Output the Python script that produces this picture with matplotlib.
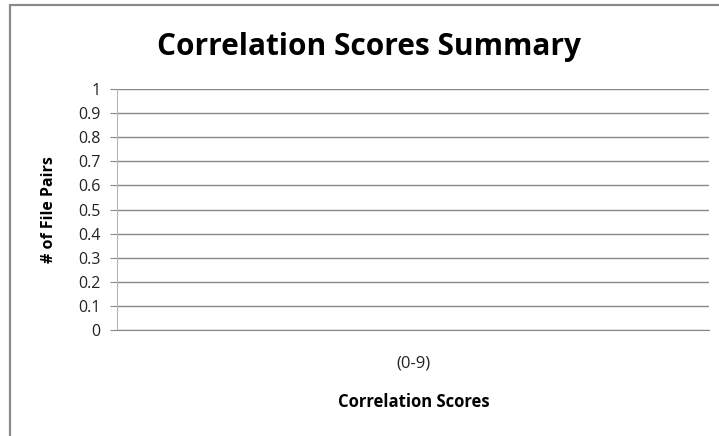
import matplotlib
matplotlib.use("Agg")
import matplotlib.pyplot as plt
from matplotlib.patches import Rectangle

# chart data (empty summary: one category, zero file pairs)
categories = ["(0-9)"]
values = [0]
y_ticks = [0, 0.1, 0.2, 0.3, 0.4, 0.5, 0.6, 0.7, 0.8, 0.9, 1]
y_tick_labels = ["0", "0.1", "0.2", "0.3", "0.4", "0.5", "0.6", "0.7", "0.8", "0.9", "1"]

plt.rcParams['font.family'] = ['Open Sans', 'DejaVu Sans']

fig = plt.figure(figsize=(7.19, 4.36), dpi=100)
fig.patch.set_facecolor("white")

# outer chart border (only left and top visible in the crop)
fig.add_artist(Rectangle((9.5 / 719, -0.1), 1.2, 1.1 - 5.5 / 436,
                         transform=fig.transFigure, fill=False,
                         edgecolor="#8a8a8a", linewidth=1.6))

ax = fig.add_axes([117 / 719, 1 - 330 / 436, (709 - 117) / 719, (330 - 89) / 436])
ax.bar(categories, values, color="#4f81bd", width=0.6)
ax.set_xlim(-0.5, 0.5)
ax.set_ylim(0, 1)

ax.set_yticks(y_ticks)
ax.set_yticklabels(y_tick_labels, fontsize=11.5, color="#222222")
ax.yaxis.grid(True, color="#888888", linewidth=1.0)
ax.set_axisbelow(True)

for side in ["top", "right"]:
    ax.spines[side].set_visible(False)
ax.spines["left"].set_color("#b5b5b5")
ax.spines["bottom"].set_color("#888888")
ax.tick_params(axis="y", length=5, color="#888888", pad=7)
ax.tick_params(axis="x", length=0, pad=18, labelsize=12, labelcolor="#222222")

fig.text(49 / 719, 1 - 210 / 436, "# of File Pairs", ha="center", va="center",
         rotation=90, fontsize=11.5, fontweight="bold")
fig.text(414 / 719, 1 - 402 / 436, "Correlation Scores", ha="center", va="center",
         fontsize=12, fontweight="bold")
fig.text(369 / 719, 1 - 55 / 436, "Correlation Scores Summary", ha="center", va="baseline",
         fontsize=21.5, fontweight="bold")

fig.savefig("out.png", dpi=100, facecolor="white")
